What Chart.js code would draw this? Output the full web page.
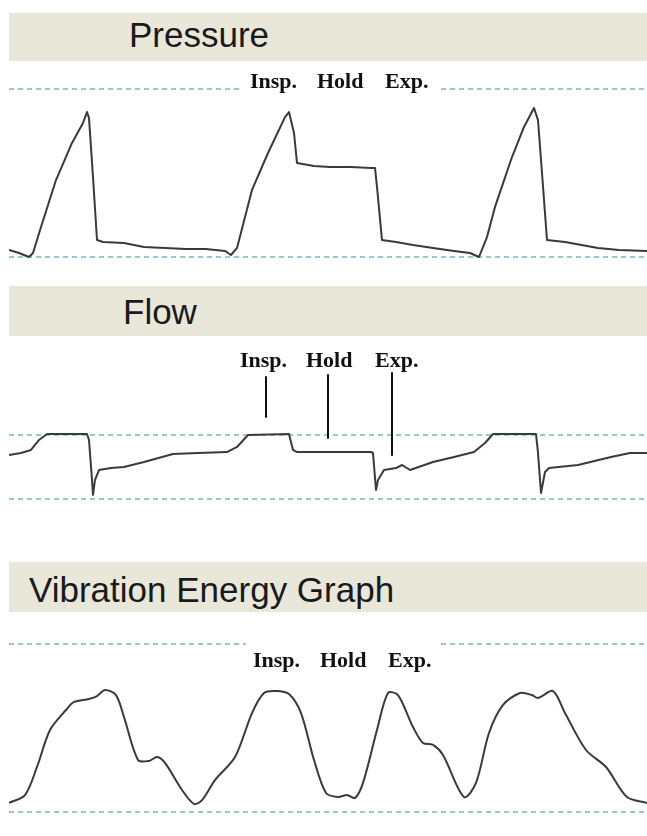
<!DOCTYPE html>
<html>
<head>
<meta charset="utf-8">
<script src="https://cdn.jsdelivr.net/npm/chart.js@4"></script>
<style>
  html, body { margin: 0; padding: 0; background: #fff; }
  body { width: 647px; height: 836px; position: relative; overflow: hidden; }
  .bar { position: absolute; left: 9px; right: 0; background: #e9e6da; }
  .ttl { position: absolute; font-family: "Liberation Sans", Arial, sans-serif; font-size: 35px; line-height: 35px; color: #1a1a1a; white-space: nowrap; }
  canvas { position: absolute; left: 0; }
</style>
</head>
<body>
<div class="bar" style="top:13px;height:48px"></div>
<div class="ttl" style="left:129px;top:17px">Pressure</div>
<canvas id="pressure" width="647" height="218" style="top:62px"></canvas>

<div class="bar" style="top:286px;height:50px"></div>
<div class="ttl" style="left:123px;top:294px">Flow</div>
<canvas id="flow" width="647" height="203" style="top:337px"></canvas>

<div class="bar" style="top:562px;height:50px"></div>
<div class="ttl" style="left:29px;top:572px">Vibration Energy Graph</div>
<canvas id="vibration" width="647" height="223" style="top:613px"></canvas>

<script>
// phase labels
const phaseWords = ["Insp.", "Hold", "Exp."];

// pressure trace (time in samples, value in % of dashed range)
const pressureTime = [9, 19, 29, 33, 41, 56, 72, 83, 87, 89, 93, 97, 103, 124, 144, 165, 186, 206, 225, 231,
  237, 252, 268, 285, 289, 294, 297, 314, 330, 351, 371, 375, 377, 382, 396, 413, 433, 454, 470, 479,
  487, 495, 512, 524, 534, 538, 542, 547, 565, 598, 619, 647];
const pressureValue = [4.2, 2.4, 0, 2.4, 17.9, 45.8, 67.9, 79.8, 86.3, 82.7, 47.6, 10.1, 8.9, 8.3, 6.0, 5.4, 4.8, 4.8, 3.6, 1.2,
  5.4, 39.9, 61.9, 83.3, 86.3, 73.8, 56.0, 54.2, 53.6, 53.6, 53.0, 53.0, 41.7, 10.1, 8.9, 7.1, 5.4, 3.6, 2.4, 0,
  11.9, 29.8, 59.5, 77.4, 88.7, 81.5, 50.0, 10.1, 8.9, 5.4, 4.2, 3.6];

// flow trace
const flowTime = [9, 21, 31, 39, 47, 87, 89, 92, 93, 95, 99, 111, 124, 144, 173, 198, 227, 237, 248, 289,
  293, 297, 330, 371, 373, 376, 378, 384, 396, 402, 410, 433, 454, 474, 485, 493, 536, 538, 541, 545,
  549, 578, 611, 630, 647];
const flowValue = [68.8, 71.9, 76.6, 92.2, 101.6, 101.6, 92.2, 29.7, 6.3, 29.7, 45.3, 48.4, 50.0, 57.8, 70.3, 71.9, 73.4, 81.3, 100, 101.6,
  76.6, 73.4, 73.4, 73.4, 71.9, 14.1, 29.7, 45.3, 48.4, 53.1, 45.3, 57.8, 65.6, 73.4, 87.5, 101.6, 101.6, 71.9, 9.4, 42.2,
  48.4, 53.1, 65.6, 71.9, 71.9];

// flow marker lines: time, top value, bottom value
const markerTime = [266, 328, 392];
const markerTop = [190.6, 193.8, 196.9];
const markerBottom = [128.1, 95.3, 68.8];

// vibration energy trace
const vibTime = [9, 25, 37, 50, 66, 74, 89, 97, 105, 116, 124, 138, 149, 157, 165, 182, 194, 202, 215, 235,
  252, 264, 276, 289, 301, 314, 326, 338, 347, 355, 363, 377, 388, 398, 413, 423, 433, 443, 464, 476,
  489, 503, 520, 532, 538, 553, 565, 586, 606, 627, 647];
const vibValue = [5.4, 10.1, 26.8, 48.8, 60.7, 65.5, 67.3, 69.0, 72.6, 69.6, 56.5, 31.0, 30.4, 32.7, 29.2, 13.1, 4.8, 7.1, 19.0, 32.7,
  58.9, 70.8, 72.0, 70.2, 58.9, 31.0, 11.3, 8.9, 10.1, 8.3, 17.3, 48.8, 70.8, 69.6, 50.6, 41.1, 39.9, 33.9, 8.9, 17.3,
  47.0, 63.7, 70.8, 69.6, 67.9, 72.0, 58.9, 36.9, 26.8, 8.9, 5.4];

const traceColor = "#3a3a3a";
const dashColor = "rgba(110,185,200,0.75)";

function pts(xs, ys) {
  return xs.map((x, i) => ({ x: x, y: ys[i] }));
}

const phaseLabels = {
  id: "phaseLabels",
  afterDatasetsDraw(chart, args, opts) {
    if (!opts || !opts.xs) return;
    const ctx = chart.ctx;
    const xs = chart.scales.x, ys = chart.scales.y;
    const yPix = ys.getPixelForValue(opts.y);
    ctx.save();
    if (opts.mask) {
      const x0 = xs.getPixelForValue(opts.xs[0]) - 7;
      const x1 = xs.getPixelForValue(opts.maskEnd);
      const lineY = ys.getPixelForValue(100);
      ctx.fillStyle = "#fff";
      ctx.fillRect(x0, lineY - 3, x1 - x0, 6);
    }
    ctx.fillStyle = "#111";
    ctx.font = "bold 22px 'Liberation Serif', serif";
    ctx.textBaseline = "alphabetic";
    ctx.textAlign = "left";
    phaseWords.forEach((w, i) => {
      ctx.fillText(w, xs.getPixelForValue(opts.xs[i]), yPix);
    });
    ctx.restore();
  }
};

function makeChart(id, datasets, yMin, yMax, labelOpts, tension) {
  return new Chart(document.getElementById(id), {
    type: "line",
    data: { datasets: datasets },
    options: {
      responsive: false,
      animation: false,
      layout: { padding: { left: 9, right: 0, top: 0, bottom: 0 } },
      elements: {
        point: { radius: 0 },
        line: { tension: tension, borderJoinStyle: "round" }
      },
      scales: {
        x: { type: "linear", min: 9, max: 647, display: false },
        y: {
          min: yMin,
          max: yMax,
          afterBuildTicks: (axis) => { axis.ticks = [{ value: 0 }, { value: 100 }]; },
          ticks: { display: false },
          border: { display: false },
          grid: { color: dashColor, lineWidth: 2, drawTicks: false, borderDash: [5, 4] }
        }
      },
      plugins: {
        legend: { display: false },
        tooltip: { enabled: false },
        phaseLabels: labelOpts
      }
    },
    plugins: [phaseLabels]
  });
}

// v4 grid dash lives under border, keep both for safety
Chart.defaults.scale.border.dash = [5, 4];

function traceSet(xs, ys) {
  return { data: pts(xs, ys), borderColor: traceColor, borderWidth: 2, fill: false };
}

makeChart("pressure", [traceSet(pressureTime, pressureValue)], -13.69, 116.07,
  { xs: [250, 317, 385], y: 100.6, mask: true, maskEnd: 441 }, 0);

const flowSets = [traceSet(flowTime, flowValue)];
markerTime.forEach((t, i) => {
  flowSets.push({
    data: [{ x: t, y: markerTop[i] }, { x: t, y: markerBottom[i] }],
    borderColor: "#111", borderWidth: 2, fill: false
  });
});
makeChart("flow", flowSets, -64.06, 253.1,
  { xs: [240, 306, 375], y: 206, mask: false }, 0);

makeChart("vibration", [traceSet(vibTime, vibValue)], -14.29, 118.45,
  { xs: [253, 320, 388], y: 86.3, mask: true, maskEnd: 441 }, 0.3);
</script>
</body>
</html>
